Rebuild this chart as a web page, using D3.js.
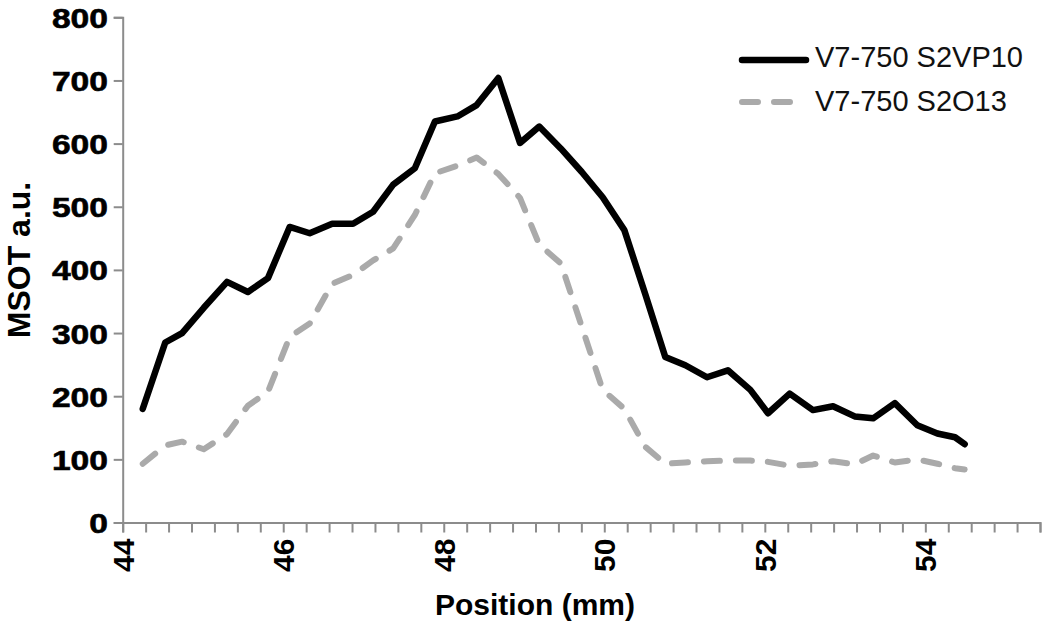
<!DOCTYPE html>
<html>
<head>
<meta charset="utf-8">
<script src="https://cdn.jsdelivr.net/npm/d3@7"></script>
<style>
  html, body { margin: 0; padding: 0; background: #fff; }
  svg { display: block; }
</style>
</head>
<body>
<svg id="chart" width="1050" height="624"></svg>
<script>
// ---- data ----
const positionsMm = [44.25,44.53,44.74,45.01,45.30,45.56,45.81,46.08,46.33,46.61,46.87,47.12,47.37,47.64,47.89,48.17,48.41,48.68,48.95,49.19,49.46,49.72,49.98,50.25,50.51,50.76,51.01,51.28,51.54,51.82,52.04,52.31,52.60,52.85,53.12,53.35,53.62,53.90,54.15,54.37,54.49];
const seriesS2VP10 = [180,285,300,340,381,365,387,468,458,473,473,492,535,561,635,643,661,704,601,627,592,555,515,463,362,262,249,230,241,210,173,204,178,184,168,165,189,154,141,135,124];
const seriesS2O13  = [93,122,128,116,140,185,207,294,315,378,392,415,434,487,553,565,578,552,514,440,410,310,210,180,120,93,95,97,98,98,96,90,92,97,92,106,95,100,93,86,84];
const seriesNames = ["V7-750 S2VP10", "V7-750 S2O13"];
const yTickValues = [0,100,200,300,400,500,600,700,800];
const xLabelValues = [44,46,48,50,52,54];
const xMinorStep = 2/7;
const xAxisTitle = "Position (mm)";
const yAxisTitle = "MSOT a.u.";

// ---- layout ----
const svg = d3.select("#chart");
const plotLeft = 122.7, plotRight = 1040, plotTop = 17.3, plotBottom = 522.5;
const xMax = 44 + 40 * xMinorStep;
const x = d3.scaleLinear().domain([44, xMax]).range([plotLeft, plotRight]);
const y = d3.scaleLinear().domain([0, 800]).range([plotBottom, plotTop]);
const axisColor = "#8c8c8c";

// Y axis
const yAxis = svg.append("g").attr("transform", `translate(${plotLeft},0)`)
  .call(d3.axisLeft(y).tickValues(yTickValues).tickSizeOuter(0).tickSize(9).tickPadding(0));
yAxis.select(".domain").attr("stroke", axisColor).attr("stroke-width", 2);
yAxis.selectAll(".tick line").attr("stroke", axisColor).attr("stroke-width", 2);
yAxis.selectAll(".tick text")
  .attr("font-family", "Liberation Sans, Arial, sans-serif")
  .attr("font-weight", "bold")
  .attr("font-size", 28)
  .attr("fill", "#000")
  .attr("stroke", "#000").attr("stroke-width", 0.6)
  .attr("x", -12.3)
  .attr("dy", "0.36em")
  .attr("transform", "scale(1.2,1)");

// X axis (minor ticks)
const minorTicks = d3.range(0, 41).map(i => 44 + i * xMinorStep);
const xAxis = svg.append("g").attr("transform", `translate(0,${plotBottom})`)
  .call(d3.axisBottom(x).tickValues(minorTicks).tickSizeOuter(0).tickSize(10).tickFormat(""));
xAxis.select(".domain").attr("stroke", axisColor).attr("stroke-width", 2);
xAxis.selectAll(".tick line").attr("stroke", axisColor).attr("stroke-width", 2);

// X labels (rotated)
svg.append("g").selectAll("text").data(xLabelValues).join("text")
  .attr("transform", d => `translate(${x(d)},${plotBottom + 16}) rotate(-90)`)
  .attr("text-anchor", "end")
  .attr("dy", "0.36em")
  .attr("font-family", "Liberation Sans, Arial, sans-serif")
  .attr("font-weight", "bold")
  .attr("font-size", 30)
  .attr("fill", "#000")
  .text(d => d);

// Axis titles
svg.append("text")
  .attr("x", 535).attr("y", 615)
  .attr("text-anchor", "middle")
  .attr("font-family", "Liberation Sans, Arial, sans-serif")
  .attr("font-weight", "bold").attr("font-size", 30)
  .text(xAxisTitle);
svg.append("text")
  .attr("transform", "translate(30,260) rotate(-90)")
  .attr("text-anchor", "middle")
  .attr("font-family", "Liberation Sans, Arial, sans-serif")
  .attr("font-weight", "bold").attr("font-size", 32)
  .text(yAxisTitle);

// Lines
const lineGen = d3.line().x(d => x(d[0])).y(d => y(d[1]));
const grayData = positionsMm.map((p, i) => [p, seriesS2O13[i]]);
const blackData = positionsMm.map((p, i) => [p, seriesS2VP10[i]]);

svg.append("path").datum(grayData)
  .attr("d", lineGen).attr("fill", "none")
  .attr("stroke", "#aaaaaa").attr("stroke-width", 6)
  .attr("stroke-dasharray", "16,16")
  .attr("stroke-linecap", "round").attr("stroke-linejoin", "round");
svg.append("path").datum(blackData)
  .attr("d", lineGen).attr("fill", "none")
  .attr("stroke", "#000").attr("stroke-width", 6.5)
  .attr("stroke-linejoin", "round").attr("stroke-linecap", "round");

// Legend
const legend = svg.append("g");
const legendItems = [
  {name: seriesNames[0], ly: 60, ty: 67, stroke: "#000", dash: null, w: 6.5},
  {name: seriesNames[1], ly: 102, ty: 111, stroke: "#aaaaaa", dash: "16,16", w: 6}
];
legendItems.forEach(it => {
  const l = legend.append("line")
    .attr("x1", 742).attr("x2", 806).attr("y1", it.ly).attr("y2", it.ly)
    .attr("stroke", it.stroke).attr("stroke-width", it.w)
    .attr("stroke-linecap", "round");
  if (it.dash) l.attr("stroke-dasharray", it.dash);
  legend.append("text")
    .attr("x", 815).attr("y", it.ty)
    .attr("font-family", "Liberation Sans, Arial, sans-serif")
    .attr("font-size", 29).attr("fill", "#111")
    .text(it.name);
});
</script>
</body>
</html>
